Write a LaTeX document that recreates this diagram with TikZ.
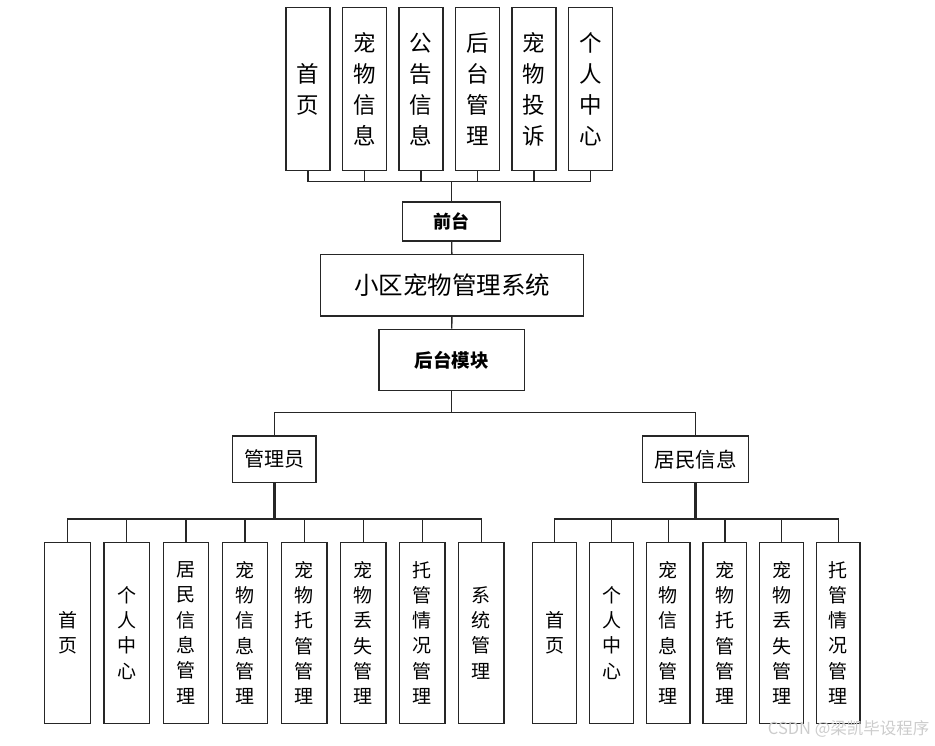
\documentclass[tikz,border=0pt]{standalone}
\usepackage{fontspec}
\newfontfamily\cjk{Noto Sans CJK SC}
\usetikzlibrary{positioning,calc}
\tikzset{
  box/.style={draw=black!85, line width=1.3pt, fill=white, inner sep=0pt, align=center},
  topbox/.style={box, minimum width=44pt, minimum height=163pt,
    font=\cjk\fontsize{22.5}{31}\selectfont},
  lowbox/.style={box, minimum height=181pt,
    font=\cjk\fontsize{19}{25.3}\selectfont},
  conn/.style={line width=1.3pt, black!85},
  trunk/.style={line width=2.6pt, black!85},
  wmark/.style={font=\cjk\fontsize{16.5}{17}\selectfont, text=gray!40},
}
\newcommand{\upline}[2]{\draw[conn] (#1.south) |- (#2);}
\newcommand{\downline}[2]{\draw[conn] (#1) -| (#2.north);}

\begin{document}
\begin{tikzpicture}[x=1pt, y=-1pt]
  \useasboundingbox (0,0) rectangle (935,745);

  %% ---- front end (top row) ----
  \node[topbox] (f1) at (308.0, 89) {首\\页};
  \node[topbox] (f2) at (364.5, 89) {宠\\物\\信\\息};
  \node[topbox] (f3) at (421.0, 89) {公\\告\\信\\息};
  \node[topbox] (f4) at (477.5, 89) {后\\台\\管\\理};
  \node[topbox] (f5) at (534.0, 89) {宠\\物\\投\\诉};
  \node[topbox] (f6) at (590.7, 89) {个\\人\\中\\心};

  \node[box, minimum width=98pt, minimum height=39pt,
        font=\cjk\bfseries\fontsize{18}{18}\selectfont] (qt) at (451.7, 221.5) {前台};
  \coordinate (topbus) at (451.7, 181.7);

  \upline{f1}{topbus}
  \upline{f2}{topbus}
  \upline{f3}{topbus}
  \upline{f4}{topbus}
  \upline{f5}{topbus}
  \upline{f6}{topbus}
  \draw[conn] (topbus) -- (qt.north);

  %% ---- system and back end ----
  \node[box, minimum width=262.6pt, minimum height=61.3pt,
        font=\cjk\fontsize{24.5}{25}\selectfont] (sys) at (452, 285.3) {小区宠物管理系统};
  \node[box, minimum width=145.3pt, minimum height=61.4pt,
        font=\cjk\bfseries\fontsize{18.5}{19}\selectfont] (hm) at (451.7, 360) {后台模块};

  \draw[conn] (qt) -- (sys);
  \draw[conn] (sys) -- (hm);

  \node[box, minimum width=83.3pt, minimum height=46.7pt,
        font=\cjk\fontsize{20}{20}\selectfont] (gly) at (274.3, 459.3) {管理员};
  \node[box, minimum width=105.6pt, minimum height=46.7pt,
        font=\cjk\fontsize{20.5}{21}\selectfont] (jm) at (695.5, 459.3) {居民信息};

  \coordinate (midbus) at (451.7, 412.7);
  \draw[conn] (hm.south) -- (midbus);
  \downline{midbus}{gly}
  \downline{midbus}{jm}

  %% ---- administrator (left group) ----
  \node[lowbox, minimum width=45.5pt] (a1) at ( 67.5, 632.8) {首\\页};
  \node[lowbox, minimum width=45.5pt] (a2) at (126.7, 632.8) {个\\人\\中\\心};
  \node[lowbox, minimum width=45.5pt] (a3) at (186.0, 632.8) {居\\民\\信\\息\\管\\理};
  \node[lowbox, minimum width=45.5pt] (a4) at (245.0, 632.8) {宠\\物\\信\\息\\管\\理};
  \node[lowbox, minimum width=45.5pt] (a5) at (304.2, 632.8) {宠\\物\\托\\管\\管\\理};
  \node[lowbox, minimum width=45.5pt] (a6) at (363.3, 632.8) {宠\\物\\丢\\失\\管\\理};
  \node[lowbox, minimum width=45.5pt] (a7) at (422.3, 632.8) {托\\管\\情\\况\\管\\理};
  \node[lowbox, minimum width=45.5pt] (a8) at (481.3, 632.8) {系\\统\\管\\理};

  \coordinate (lbus) at (274.3, 519);
  \draw[trunk] (gly.south) -- (lbus);
  \downline{lbus}{a1}
  \downline{lbus}{a2}
  \downline{lbus}{a3}
  \downline{lbus}{a4}
  \downline{lbus}{a5}
  \downline{lbus}{a6}
  \downline{lbus}{a7}
  \downline{lbus}{a8}

  %% ---- resident (right group) ----
  \node[lowbox, minimum width=43.7pt] (r1) at (554.5, 632.8) {首\\页};
  \node[lowbox, minimum width=43.7pt] (r2) at (611.5, 632.8) {个\\人\\中\\心};
  \node[lowbox, minimum width=43.7pt] (r3) at (668.2, 632.8) {宠\\物\\信\\息\\管\\理};
  \node[lowbox, minimum width=43.7pt] (r4) at (724.9, 632.8) {宠\\物\\托\\管\\管\\理};
  \node[lowbox, minimum width=43.7pt] (r5) at (781.5, 632.8) {宠\\物\\丢\\失\\管\\理};
  \node[lowbox, minimum width=43.7pt] (r6) at (838.2, 632.8) {托\\管\\情\\况\\管\\理};

  \coordinate (rbus) at (695.5, 519);
  \draw[trunk] (jm.south) -- (rbus);
  \downline{rbus}{r1}
  \downline{rbus}{r2}
  \downline{rbus}{r3}
  \downline{rbus}{r4}
  \downline{rbus}{r5}
  \downline{rbus}{r6}

  \node[wmark, anchor=east] (wm) at (933, 729) {CSDN @梁凯毕设程序};

\end{tikzpicture}
\end{document}
